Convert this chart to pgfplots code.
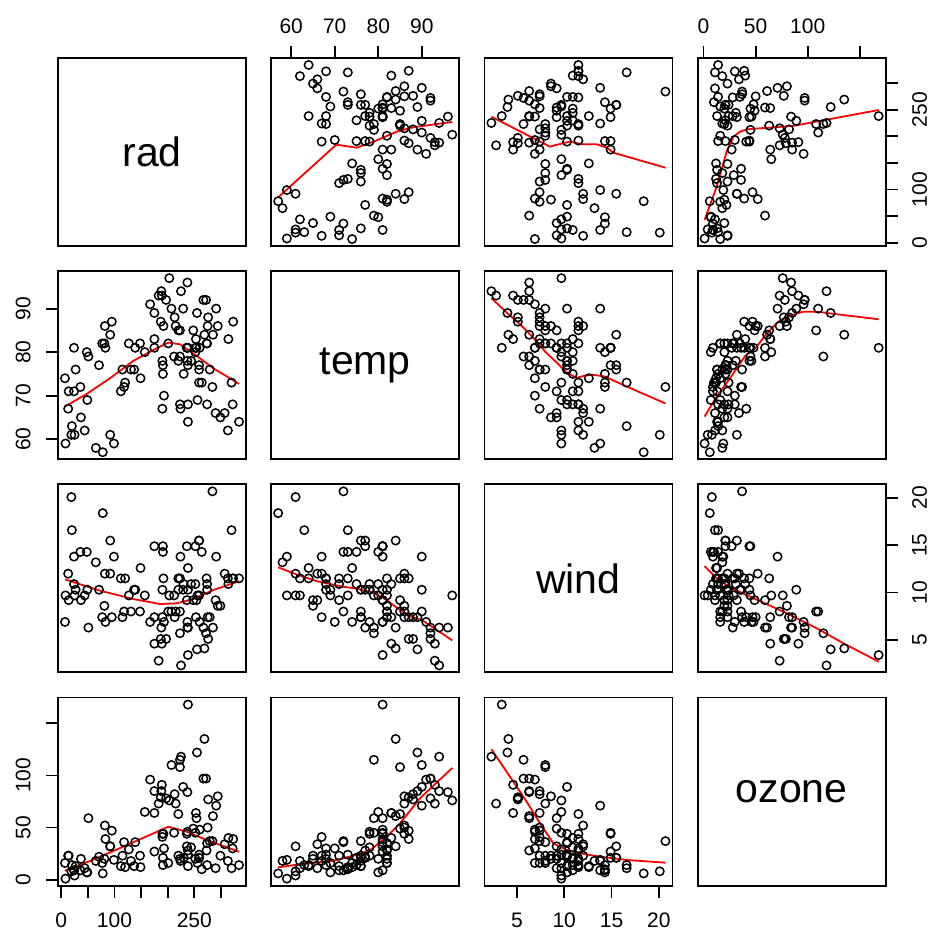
\documentclass[border=0pt]{standalone}
\usepackage{fontspec}
\setmainfont{Liberation Sans}
\usepackage{pgfplots}
\usepackage{pgfplotstable}
\pgfplotsset{compat=1.18}

\pgfplotstableread{
rad temp wind ozone
190 67 7.4 41
118 72 8.0 36
149 74 12.6 12
313 62 11.5 18
299 65 8.6 23
99 59 13.8 19
19 61 20.1 8
256 69 9.7 16
290 66 9.2 11
274 68 10.9 14
65 58 13.2 18
334 64 11.5 14
307 66 12.0 34
78 57 18.4 6
322 68 11.5 30
44 62 9.7 11
8 59 9.7 1
320 73 16.6 11
25 61 9.7 4
92 61 12.0 32
13 67 12.0 23
252 81 14.9 45
223 79 5.7 115
279 76 7.4 37
127 82 9.7 29
291 90 13.8 71
323 87 11.5 39
148 82 8.0 23
191 77 14.9 21
284 72 20.7 37
37 65 9.2 20
120 73 11.5 12
137 76 10.3 13
269 84 4.1 135
248 85 9.2 49
236 81 9.2 32
175 83 4.6 64
314 83 10.9 40
276 88 5.1 77
267 92 6.3 97
272 92 5.7 97
175 89 7.4 85
264 73 14.3 10
175 81 14.9 27
48 80 14.3 7
260 81 6.9 48
274 82 10.3 35
285 84 6.3 61
187 87 5.1 79
220 85 11.5 63
7 74 6.9 16
294 86 8.6 80
223 85 8.0 108
81 82 8.6 20
82 86 12.0 52
213 88 7.4 82
275 86 7.4 50
253 83 7.4 64
254 81 9.2 59
83 81 6.9 39
24 81 13.8 9
77 82 7.4 16
255 89 4.0 122
229 90 10.3 89
207 90 8.0 110
192 86 11.5 44
273 82 11.5 28
157 80 9.7 65
71 77 10.3 22
51 79 6.3 59
115 76 7.4 23
244 78 10.9 31
190 78 10.3 44
259 77 15.5 21
36 72 14.3 9
212 79 9.7 45
238 81 3.4 168
215 86 8.0 73
203 97 9.7 76
225 94 2.3 118
237 96 6.3 84
188 94 6.3 85
167 91 6.9 96
197 92 5.1 78
183 93 2.8 73
189 93 4.6 91
95 87 7.4 47
92 84 15.5 32
252 80 10.9 20
220 78 10.3 23
230 75 10.9 21
259 73 9.7 24
236 81 14.9 44
259 76 15.5 21
238 77 6.3 28
24 71 10.9 9
112 71 11.5 13
237 78 6.9 46
224 67 13.8 18
27 76 10.3 13
238 68 10.3 24
201 82 8.0 16
238 64 12.6 13
14 71 9.2 23
139 81 10.3 36
49 69 10.3 7
20 63 16.6 14
193 70 6.9 30
191 75 14.3 14
131 76 8.0 18
223 68 11.5 20
}\aq

\pgfplotsset{
  panel/.style={
    scale only axis, width=188pt, height=188pt,
    anchor=south west,
    axis line style={line width=1.8pt},
    xtick=\empty, ytick=\empty,
    tick align=outside,
    major tick length=12pt,
    tick style={line width=1.8pt, black},
    tick label style={font=\fontsize{21}{25}\selectfont},
    /pgf/number format/assume math mode=true,
  },
  radx/.style={xmin=-6.08, xmax=347.08},
  tempx/.style={xmin=55.4, xmax=98.6},
  windx/.style={xmin=1.564, xmax=21.436},
  ozonex/.style={xmin=-5.68, xmax=174.68},
  rady/.style={ymin=-6.08, ymax=347.08},
  tempy/.style={ymin=55.4, ymax=98.6},
  windy/.style={ymin=1.564, ymax=21.436},
  ozoney/.style={ymin=-5.68, ymax=174.68},
  diag/.style={xmin=0, xmax=1, ymin=0, ymax=1},
  pts/.style={only marks, mark=o, mark size=4.2pt, line width=1.5pt, black},
  lw/.style={red, line width=1.8pt, no marks},
  topx/.style={xtick pos=right, xticklabel pos=right, xticklabel shift=9pt},
  botx/.style={xtick pos=left, xticklabel pos=left, xticklabel shift=12pt},
  lefty/.style={ytick pos=left, yticklabel pos=left, yticklabel shift=12pt, yticklabel style={rotate=90, anchor=south}},
  righty/.style={ytick pos=right, yticklabel pos=right, yticklabel shift=11pt, yticklabel style={rotate=90, anchor=north}},
}

\newcommand{\difont}{\fontsize{41}{48}\selectfont}

\begin{document}
\begin{tikzpicture}
\path[use as bounding box] (0,0) rectangle (933pt,937pt);

% ---------- Row 1 (y = rad) ----------
\begin{axis}[panel, diag, at={(58pt,691pt)}]
\node at (axis cs:0.5,0.5) {\difont rad};
\end{axis}
\begin{axis}[panel, tempx, rady, at={(271.2pt,691pt)}, topx, xtick={60,70,80,90}]
\addplot[pts] table[x=temp, y=rad] {\aq};
\addplot[lw] coordinates {(57,85.4) (70.1,182.4) (70.8,183.7) (75,178.6) (78.9,189.9) (84.2,208.6) (88,216.9) (97,226.9)};
\end{axis}
\begin{axis}[panel, windx, rady, at={(484.4pt,691pt)}]
\addplot[pts] table[x=wind, y=rad] {\aq};
\addplot[lw] coordinates {(2.3,236.8) (8.5,180.5) (9.0,183.1) (10.6,190) (11.1,188) (11.85,185) (13.43,185) (14.49,178.6) (15.19,169.2) (20.7,141)};
\end{axis}
\begin{axis}[panel, ozonex, rady, at={(697.6pt,691pt)}, topx, xtick={0,50,100,150}, xticklabels={0,50,100,},
  righty, ytick={0,50,100,150,200,250,300}, yticklabels={0,,100,,,250,}]
\addplot[pts] table[x=ozone, y=rad] {\aq};
\addplot[lw] coordinates {(1,42.8) (12.6,105.3) (22.2,171) (28.6,199.2) (35,208.6) (41.4,213) (54.2,215) (85.8,219.4) (168,249.4)};
\end{axis}

% ---------- Row 2 (y = temp) ----------
\begin{axis}[panel, radx, tempy, at={(58pt,477.8pt)}, lefty, ytick={60,70,80,90}]
\addplot[pts] table[x=rad, y=temp] {\aq};
\addplot[lw] coordinates {(7,67.5) (47.8,70.4) (91.6,74) (135.4,78) (173,80.5) (201.1,82.2) (223.1,81.8) (248.1,79.7) (285.6,76.3) (334,72.7)};
\end{axis}
\begin{axis}[panel, diag, at={(271.2pt,477.8pt)}]
\node at (axis cs:0.5,0.5) {\difont temp};
\end{axis}
\begin{axis}[panel, windx, tempy, at={(484.4pt,477.8pt)}]
\addplot[pts] table[x=wind, y=temp] {\aq};
\addplot[lw] coordinates {(2.3,92.4) (4.06,88.8) (5.47,86.1) (6.7,83.4) (7.94,80.2) (9.35,77.3) (10.22,75.4) (11.28,74.06) (12.17,74.6) (13.05,74.8) (14.28,74.4) (16.4,72.3) (20.7,68.2)};
\end{axis}
\begin{axis}[panel, ozonex, tempy, at={(697.6pt,477.8pt)}]
\addplot[pts] table[x=ozone, y=temp] {\aq};
\addplot[lw] coordinates {(1,65.2) (12.6,69.8) (25.4,74.0) (39.8,79.1) (51,81.25) (60.6,84.3) (71.7,87) (83,88.4) (95.7,89.3) (108.6,89.3) (121.3,88.9) (168,87.55)};
\end{axis}

% ---------- Row 3 (y = wind) ----------
\begin{axis}[panel, radx, windy, at={(58pt,264.6pt)}]
\addplot[pts] table[x=rad, y=wind] {\aq};
\addplot[lw] coordinates {(7,11.4) (72.8,10.2) (135.4,9.32) (185.5,8.79) (216.9,8.87) (248.1,9.32) (285.6,10.27) (334,11.2)};
\end{axis}
\begin{axis}[panel, tempx, windy, at={(271.2pt,264.6pt)}]
\addplot[pts] table[x=temp, y=wind] {\aq};
\addplot[lw] coordinates {(57,12.67) (61.4,11.89) (66,11.19) (71.4,10.66) (75.2,10.4) (78.3,10.06) (81.3,9.42) (84.4,8.36) (87.5,7.48) (90.5,6.96) (97,4.95)};
\end{axis}
\begin{axis}[panel, diag, at={(484.4pt,264.6pt)}]
\node at (axis cs:0.5,0.5) {\difont wind};
\end{axis}
\begin{axis}[panel, ozonex, windy, at={(697.6pt,264.6pt)}, righty, ytick={5,10,15,20}]
\addplot[pts] table[x=ozone, y=wind] {\aq};
\addplot[lw] coordinates {(1,12.8) (12.6,11.5) (25.4,10.56) (44.6,9.57) (76.6,7.98) (108.6,6.23) (134.2,4.64) (168,2.7)};
\end{axis}

% ---------- Row 4 (y = ozone) ----------
\begin{axis}[panel, radx, ozoney, at={(58pt,51.4pt)}, botx, xtick={0,50,100,150,200,250,300}, xticklabels={0,,100,,,250,},
  lefty, ytick={0,50,100,150}, yticklabels={0,50,100,}]
\addplot[pts] table[x=rad, y=ozone] {\aq};
\addplot[lw] coordinates {(7,8.6) (54,17.9) (97.8,27.5) (147.9,38.7) (201.1,50.8) (235.7,46) (273.2,38.1) (334,26.8)};
\end{axis}
\begin{axis}[panel, tempx, ozoney, at={(271.2pt,51.4pt)}]
\addplot[pts] table[x=temp, y=ozone] {\aq};
\addplot[lw] coordinates {(57,11.9) (62,14.75) (69.7,18.2) (75.8,24.6) (78.5,29.4) (81.9,41.2) (85,54.1) (89.6,78.1) (97,107.2)};
\end{axis}
\begin{axis}[panel, windx, ozoney, at={(484.4pt,51.4pt)}, botx, xtick={5,10,15,20}]
\addplot[pts] table[x=wind, y=ozone] {\aq};
\addplot[lw] coordinates {(2.3,125.1) (4.27,98.8) (6.03,74.8) (7.44,54.1) (8.85,34.9) (10.26,28.5) (11.67,25.3) (13.78,22.05) (16.6,18.9) (20.7,16.3)};
\end{axis}
\begin{axis}[panel, diag, at={(697.6pt,51.4pt)}]
\node at (axis cs:0.5,0.5) {\difont ozone};
\end{axis}
\end{tikzpicture}
\end{document}
